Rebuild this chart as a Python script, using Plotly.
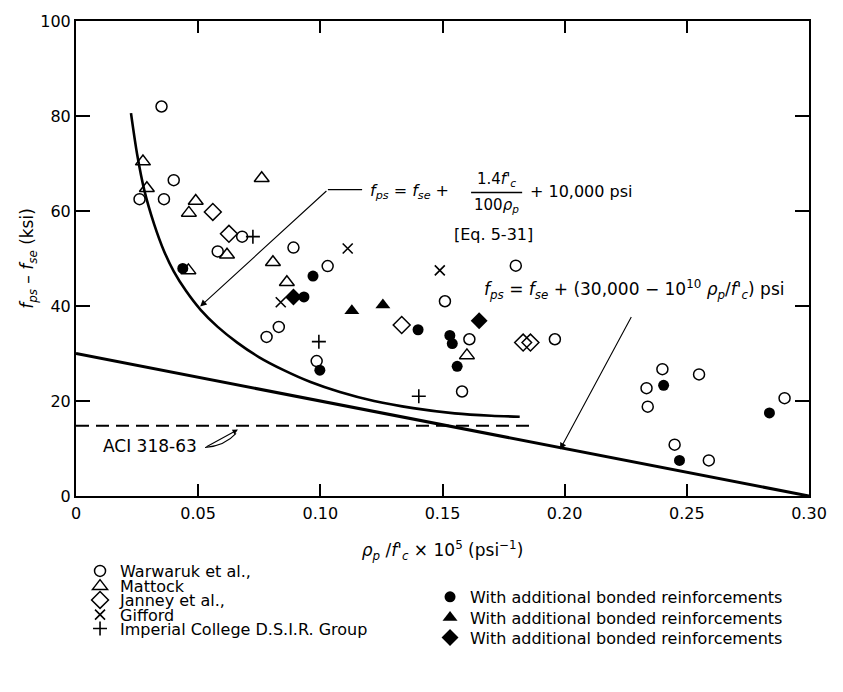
import plotly.graph_objects as go

# ---- test data: rho_p / f'c x 1e5 (psi^-1) vs f_ps - f_se (ksi) ----
warwaruk_x = [0.035, 0.040, 0.026, 0.036, 0.068, 0.058, 0.089, 0.103, 0.083, 0.078,
              0.0985, 0.180, 0.151, 0.161, 0.196, 0.158, 0.240, 0.255, 0.2335,
              0.234, 0.290, 0.245, 0.259]
warwaruk_y = [82, 66.5, 62.5, 62.5, 54.6, 51.5, 52.3, 48.4, 35.6, 33.5,
              28.4, 48.5, 41.0, 33.0, 33.0, 22.0, 26.7, 25.6, 22.7,
              18.8, 20.6, 10.8, 7.5]

mattock_x = [0.0274, 0.029, 0.049, 0.0462, 0.076, 0.0618, 0.046, 0.0806, 0.0863, 0.160]
mattock_y = [70.4, 64.8, 62.1, 59.6, 66.9, 50.8, 47.5, 49.2, 45.0, 29.6]

janney_x = [0.056, 0.0626, 0.1333, 0.183, 0.186]
janney_y = [59.8, 55.2, 36.0, 32.3, 32.3]

gifford_x = [0.0838, 0.1112, 0.1489]
gifford_y = [40.8, 52.1, 47.5]

imperial_x = [0.0724, 0.0994, 0.1403]
imperial_y = [54.6, 32.5, 21.0]

bonded_circle_x = [0.0437, 0.097, 0.0933, 0.0998, 0.140, 0.153, 0.154, 0.156,
                   0.2405, 0.2838, 0.247]
bonded_circle_y = [47.9, 46.3, 41.9, 26.5, 35.0, 33.8, 32.1, 27.3,
                   23.3, 17.5, 7.5]

bonded_triangle_x = [0.1129, 0.1256]
bonded_triangle_y = [39.0, 40.2]

bonded_diamond_x = [0.089, 0.165]
bonded_diamond_y = [41.9, 36.9]

# ---- design curves ----
eq531_x = [0.0225, 0.025, 0.028, 0.032, 0.036, 0.040, 0.045, 0.051, 0.058, 0.066,
           0.075, 0.085, 0.096, 0.108, 0.122, 0.138, 0.155, 0.170, 0.1816]
eq531_y = [80.6, 72.0, 64.3, 57.2, 51.6, 47.3, 43.2, 39.2, 35.6, 32.3,
           29.2, 26.5, 24.0, 21.9, 20.0, 18.5, 17.4, 16.9, 16.7]

linear_x = [0.0, 0.30]
linear_y = [30.0, 0.0]

aci_x = [0.0, 0.186]
aci_y = [14.8, 14.8]

x_ticks = [0, 0.05, 0.10, 0.15, 0.20, 0.25, 0.30]
x_ticktext = ["0", "0.05", "0.10", "0.15", "0.20", "0.25", "0.30"]
y_ticks = [0, 20, 40, 60, 80, 100]

FONT = "DejaVu Sans"
BLACK = "black"

fig = go.Figure()

# curves
fig.add_trace(go.Scatter(x=eq531_x, y=eq531_y, mode="lines", showlegend=False,
                         line=dict(color=BLACK, width=2.6, shape="spline", smoothing=0.8),
                         hoverinfo="skip"))
fig.add_trace(go.Scatter(x=linear_x, y=linear_y, mode="lines", showlegend=False,
                         line=dict(color=BLACK, width=3), hoverinfo="skip"))
fig.add_trace(go.Scatter(x=aci_x, y=aci_y, mode="lines", showlegend=False,
                         line=dict(color=BLACK, width=2, dash="13px,7px"), hoverinfo="skip"))

open_line = dict(color=BLACK, width=1.5)

series = [
    ("Warwaruk et al.,", warwaruk_x, warwaruk_y,
     dict(symbol="circle-open", size=11, color=BLACK, line=open_line), "legend"),
    ("Mattock", mattock_x, mattock_y,
     dict(symbol="triangle-up-open", size=13, color=BLACK, line=open_line), "legend2"),
    ("Janney et al.,", janney_x, janney_y,
     dict(symbol="diamond-open", size=13, color=BLACK, line=open_line), "legend3"),
    ("Gifford", gifford_x, gifford_y,
     dict(symbol="x-thin-open", size=10, color=BLACK, line=dict(color=BLACK, width=1.6)), "legend4"),
    ("Imperial College D.S.I.R. Group", imperial_x, imperial_y,
     dict(symbol="cross-thin-open", size=10, color=BLACK, line=dict(color=BLACK, width=1.6)), "legend5"),
    ("With additional bonded reinforcements", bonded_circle_x, bonded_circle_y,
     dict(symbol="circle", size=11, color=BLACK, line=dict(width=0)), "legend6"),
    ("With additional bonded reinforcements", bonded_triangle_x, bonded_triangle_y,
     dict(symbol="triangle-up", size=13, color=BLACK, line=dict(width=0)), "legend7"),
    ("With additional bonded reinforcements", bonded_diamond_x, bonded_diamond_y,
     dict(symbol="diamond", size=13, color=BLACK, line=dict(width=0)), "legend8"),
]

for name, xs, ys, marker, leg in series:
    fig.add_trace(go.Scatter(x=xs, y=ys, mode="markers", name=name, marker=marker,
                             legend=leg, showlegend=True))

# ---- legend blocks (one entry each so rows can be spaced freely) ----
def legend_box(x, y):
    return dict(x=x, y=y, xanchor="left", yanchor="middle", bgcolor="rgba(0,0,0,0)",
                borderwidth=0, font=dict(family=FONT, size=16, color=BLACK),
                itemwidth=30, tracegroupgap=0)

left_rows = [-0.158, -0.19, -0.219, -0.25, -0.279]
right_rows = [-0.2125, -0.256, -0.298]
legend_layout = {}
for i, yy in enumerate(left_rows):
    key = "legend" if i == 0 else f"legend{i + 1}"
    legend_layout[key] = legend_box(0.0055, yy)
for j, yy in enumerate(right_rows):
    legend_layout[f"legend{j + 6}"] = legend_box(0.483, yy)

# ---- equation labels and leaders ----
ann_font = dict(family=FONT, size=16, color=BLACK)
annotations = [
    dict(x=0.1195, y=64.1, xanchor="left", yanchor="middle", showarrow=False,
         text="<i>f</i><sub><i>ps</i></sub> = <i>f</i><sub><i>se</i></sub> +", font=ann_font),
    dict(x=0.1723, y=66.7, xanchor="center", yanchor="middle", showarrow=False,
         text="1.4<i>f</i>'<sub><i>c</i></sub>", font=dict(family=FONT, size=15, color=BLACK)),
    dict(x=0.1723, y=61.2, xanchor="center", yanchor="middle", showarrow=False,
         text="100<i>ρ</i><sub><i>p</i></sub>", font=dict(family=FONT, size=15, color=BLACK)),
    dict(x=0.185, y=64.1, xanchor="left", yanchor="middle", showarrow=False,
         text="+ 10,000 psi", font=ann_font),
    dict(x=0.1707, y=55.1, xanchor="center", yanchor="middle", showarrow=False,
         text="[Eq. 5-31]", font=ann_font),
    dict(x=0.1662, y=43.4, xanchor="left", yanchor="middle", showarrow=False,
         text="<i>f</i><sub><i>ps</i></sub> = <i>f</i><sub><i>se</i></sub> + (30,000 − 10<sup>10</sup> "
              "<i>ρ</i><sub><i>p</i></sub>/<i>f</i>'<sub><i>c</i></sub>) psi",
         font=dict(family=FONT, size=17, color=BLACK)),
    dict(x=0.0303, y=10.6, xanchor="center", yanchor="middle", showarrow=False,
         text="ACI 318-63", font=dict(family=FONT, size=17, color=BLACK)),
    # leader arrows
    dict(x=0.0508, y=39.9, ax=0.1031, ay=64.5, axref="x", ayref="y", text="",
         showarrow=True, arrowhead=2, arrowsize=1.2, arrowwidth=1.1, arrowcolor=BLACK, standoff=0),
    dict(x=0.1981, y=9.8, ax=0.2276, ay=38.0, axref="x", ayref="y", text="",
         showarrow=True, arrowhead=2, arrowsize=1.2, arrowwidth=1.1, arrowcolor=BLACK, standoff=0),
    dict(x=0.0663, y=14.0, ax=0.0528, ay=10.2, axref="x", ayref="y", text="",
         showarrow=True, arrowhead=2, arrowsize=1.0, arrowwidth=1.1, arrowcolor=BLACK, standoff=0),
]

shapes = [
    # fraction bar
    dict(type="line", xref="x", yref="y", x0=0.1617, x1=0.1826, y0=63.9, y1=63.9,
         line=dict(color=BLACK, width=1.5), layer="above"),
    # horizontal part of the Eq. 5-31 leader
    dict(type="line", xref="x", yref="y", x0=0.1031, x1=0.1171, y0=64.5, y1=64.5,
         line=dict(color=BLACK, width=1.1), layer="above"),
    # curved hook of the ACI 318-63 pointer
    dict(type="path", xref="x", yref="y",
         path="M 0.0528 10.2 Q 0.0610 10.6 0.0655 13.2",
         line=dict(color=BLACK, width=1.1), layer="above"),
]

axis_common = dict(showline=True, linecolor=BLACK, linewidth=2, mirror="ticks",
                   ticks="inside", tickcolor=BLACK, tickwidth=1.6, showgrid=False,
                   zeroline=False, tickfont=dict(family=FONT, size=16, color=BLACK))

fig.update_layout(
    width=843, height=692,
    margin=dict(l=76, r=34, t=16, b=196),
    paper_bgcolor="white", plot_bgcolor="white",
    font=dict(family=FONT, size=16, color=BLACK),
    xaxis=dict(range=[0, 0.30], tickvals=x_ticks, ticktext=x_ticktext, ticklen=12,
               ticklabelstandoff=2,
               title=dict(text="<i>ρ</i><sub><i>p</i></sub> /<i>f</i>'<sub><i>c</i></sub> × 10<sup>5</sup> (psi<sup>−1</sup>)",
                          standoff=22, font=dict(family=FONT, size=17, color=BLACK)),
               **axis_common),
    yaxis=dict(range=[0, 100], tickvals=y_ticks, ticklen=14, ticklabelstandoff=0,
               title=dict(text="<i>f</i><sub><i>ps</i></sub> – <i>f</i><sub><i>se</i></sub> (ksi)",
                          standoff=2, font=dict(family=FONT, size=17, color=BLACK)),
               **axis_common),
    annotations=annotations,
    shapes=shapes,
    **legend_layout,
)

fig.write_html("out.html")
